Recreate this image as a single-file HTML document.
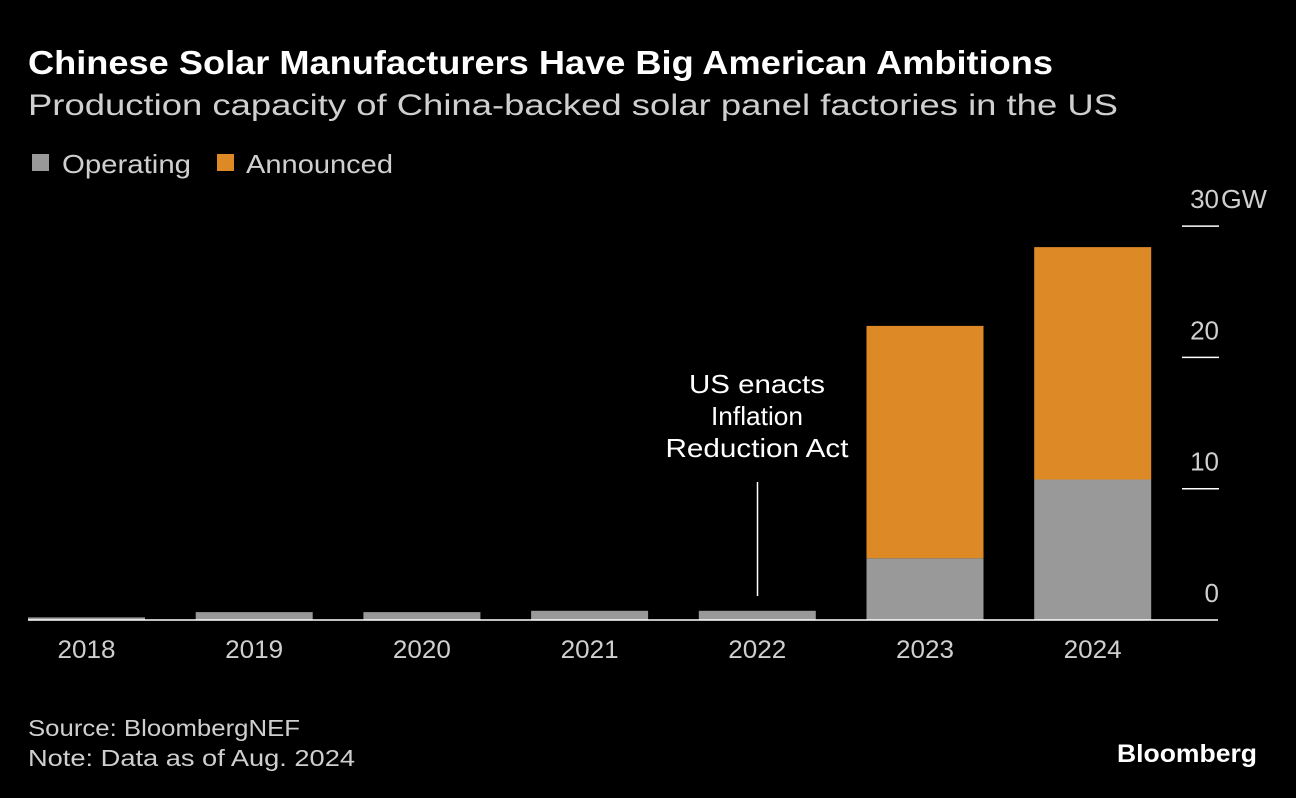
<!DOCTYPE html>
<html><head><meta charset="utf-8"><style>
body{margin:0;background:#000;width:1296px;height:798px;overflow:hidden;font-family:"Liberation Sans",sans-serif;color:#fff}
svg{position:absolute;left:0;top:0}
</style></head><body>
<svg width="1296" height="798" font-family="Liberation Sans, sans-serif">
<text x="28" y="74" font-size="33" font-weight="bold" fill="#fff" textLength="1025" lengthAdjust="spacingAndGlyphs">Chinese Solar Manufacturers Have Big American Ambitions</text>
<text x="28" y="115" font-size="30" fill="#cfcfcf" textLength="1090" lengthAdjust="spacingAndGlyphs">Production capacity of China-backed solar panel factories in the US</text>
<g>
<rect x="32" y="154" width="17" height="17" fill="#999"/>
<text x="62" y="173" font-size="26" fill="#cfcfcf" textLength="129" lengthAdjust="spacingAndGlyphs">Operating</text>
<rect x="217" y="154" width="17" height="17" fill="#dd8a26"/>
<text x="246" y="173" font-size="26" fill="#cfcfcf" textLength="147" lengthAdjust="spacingAndGlyphs">Announced</text>
</g>
<g id="plot"></g>
<text font-size="26" fill="#fff" text-anchor="middle"><tspan x="757" y="393" textLength="136" lengthAdjust="spacingAndGlyphs">US enacts</tspan><tspan x="757" y="425" textLength="92" lengthAdjust="spacingAndGlyphs">Inflation</tspan><tspan x="757" y="457" textLength="183" lengthAdjust="spacingAndGlyphs">Reduction Act</tspan></text>
<line x1="757.5" y1="482" x2="757.5" y2="596" stroke="#fff" stroke-width="1.5"/>
<text x="28" y="736" font-size="23" fill="#cfcfcf" textLength="272" lengthAdjust="spacingAndGlyphs">Source: BloombergNEF</text>
<text x="28" y="766" font-size="23" fill="#cfcfcf" textLength="327" lengthAdjust="spacingAndGlyphs">Note: Data as of Aug. 2024</text>
<text x="1117" y="762" font-size="25" font-weight="bold" fill="#fff" textLength="140" lengthAdjust="spacingAndGlyphs">Bloomberg</text>
</svg>
<script>
const categories=["2018","2019","2020","2021","2022","2023","2024"];
const operating=[0.2,0.6,0.6,0.7,0.7,4.7,10.7];
const announced=[0,0,0,0,0,17.7,17.7];
const tickValues=[0,10,20,30];
const tickLabels=["0","10","20","30"];
const y0=620,pxPer=13.13,x0=28,step=167.7,bw=117;
const y=v=>y0-v*pxPer;
const x=i=>x0+i*step;
const g=document.getElementById('plot');
const NS='http://www.w3.org/2000/svg';
function mk(t,a){const e=document.createElementNS(NS,t);for(const k in a)e.setAttribute(k,a[k]);g.appendChild(e);return e;}
categories.forEach((c,i)=>{
  const r=mk('rect',{x:x(i),y:y(operating[i]),width:bw,height:operating[i]*pxPer,fill:'#999'});
  
  
  if(announced[i]>0){
    const a=mk('rect',{x:x(i),y:y(operating[i]+announced[i]),width:bw,height:announced[i]*pxPer,fill:'#dd8a26'});
    
    
  }
  const t=mk('text',{x:x(i)+bw/2,y:658,'font-size':25,fill:'#cfcfcf','text-anchor':'middle',textLength:58,lengthAdjust:'spacingAndGlyphs'});
  t.textContent=c;
  
  
});
const base=mk('line',{x1:28,x2:1218,y1:y0,y2:y0,stroke:'#fff','stroke-width':1.5});


tickValues.forEach((v,i)=>{
  if(v>0){
    const l=mk('line',{x1:1182,x2:1219,y1:y(v),y2:y(v),stroke:'#fff','stroke-width':1.5});
    
    
  }
  const t=mk('text',{x:1219,y:y(v)-18,'font-size':26,fill:'#cfcfcf','text-anchor':'end'});
  t.textContent=tickLabels[i];
  
  
  if(i===tickValues.length-1){
    const u=mk('text',{x:1221,y:y(v)-18,'font-size':26,fill:'#cfcfcf',textLength:46,lengthAdjust:'spacingAndGlyphs'});
    u.textContent='GW';
    
    
  }
});
</script>
</body></html>
